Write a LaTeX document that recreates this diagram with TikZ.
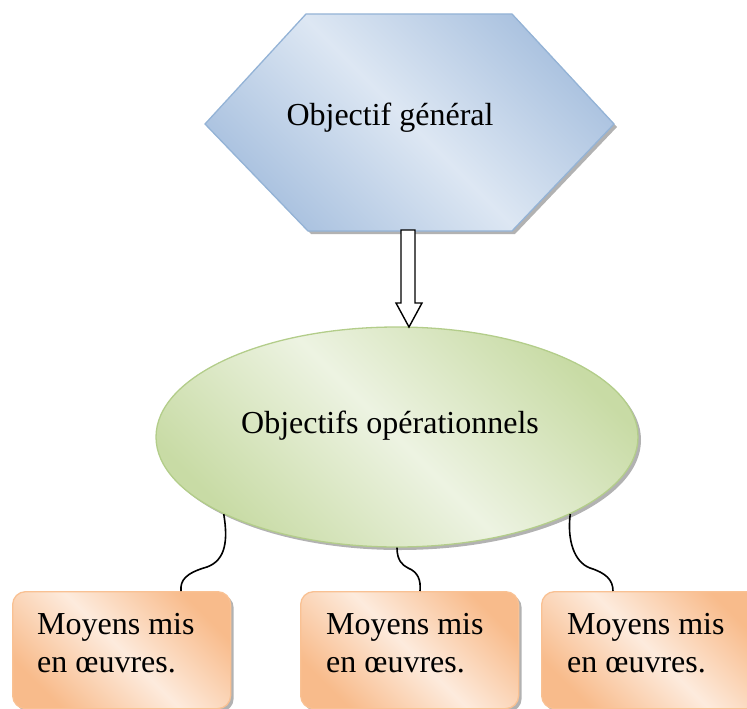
\documentclass[tikz,border=0pt]{standalone}
\usepackage{fontspec}
\setmainfont{Liberation Serif}
\usetikzlibrary{shapes.geometric,shadows,calc}
\definecolor{hexline}{HTML}{94B3D6}
\definecolor{hexdark}{HTML}{A9C1DF}
\definecolor{hexlight}{HTML}{DDE7F3}
\definecolor{grnline}{HTML}{B3CD8A}
\definecolor{grndark}{HTML}{C8DBA5}
\definecolor{grnlight}{HTML}{EDF3E2}
\definecolor{orgline}{HTML}{F9C193}
\definecolor{orgdark}{HTML}{F8BB8B}
\definecolor{orglight}{HTML}{FDEBDD}
\begin{document}
\begin{tikzpicture}[x=1pt,y=-1pt,
  bigtext/.style={font=\fontsize{32}{38}\selectfont, inner sep=0pt},
  shad/.style={drop shadow={shadow xshift=3pt, shadow yshift=-3pt, fill=black, opacity=0.3}},
  hexshape/.style={draw=hexline, line width=1.3pt, top color=hexdark, bottom color=hexdark, middle color=hexlight, shading angle=-45, shad},
  opsshape/.style={ellipse, draw=grnline, line width=1.3pt, top color=grndark, bottom color=grndark, middle color=grnlight, shading angle=-45, shad, minimum width=482pt, minimum height=220pt, inner sep=0pt},
  mbox/.style={rectangle, rounded corners=13pt, draw=orgline, line width=1.3pt, top color=orgdark, bottom color=orgdark, middle color=orglight, shading angle=-45, shad, minimum width=218pt, minimum height=117pt, inner sep=0pt, anchor=north west},
  boxtext/.style={bigtext, align=left, anchor=north west},
  conn/.style={draw=black, line width=1.6pt},
  blockarrow/.style={draw=black, fill=white, line width=1.4pt, line join=miter}
]
\clip (0,0) rectangle (747,709);
% hexagon
\path[hexshape] (306,14) -- (512,14) -- (614,124) -- (512,231) -- (308,231) -- (205,124) -- cycle;
\node[bigtext, anchor=base] (gen) at (390,125) {Objectif général};
% ellipse
\node[opsshape] (ops) at (397,437) {};
\node[bigtext, anchor=base] (opstext) at (390,433) {Objectifs opérationnels};
% block arrow from hexagon to ellipse
\path[blockarrow] (401,230) -- (415,230) -- (415,303) -- (422,303) -- (409,327) -- (396,303) -- (401,303) -- cycle;
% boxes
\node[mbox] (b1) at (12,591) {};
\node[mbox] (b2) at (300,591) {};
\node[mbox] (b3) at (541,591) {};
\node[boxtext] (t1) at (37,613) {Moyens mis\\en œuvres.};
\node[boxtext] (t2) at (326,613) {Moyens mis\\en œuvres.};
\node[boxtext] (t3) at (567,613) {Moyens mis\\en œuvres.};
\coordinate (c1) at ($(b1.north west)+(169,0)$);
\coordinate (c2) at ($(b2.north west)+(120,0)$);
\coordinate (c3) at ($(b3.north west)+(72,0)$);
% connectors
\draw[conn] (ops.204) .. controls (228,540) and (226,560) .. (207,567) .. controls (186,573) and (180,580) .. (c1);
\draw[conn] (ops.270) .. controls (397,560) and (402,565) .. (408,568) .. controls (418,572) and (421,580) .. (c2);
\draw[conn] (ops.336) .. controls (567,540) and (574,562) .. (590,568) .. controls (606,573) and (613,580) .. (c3);
\end{tikzpicture}
\end{document}
